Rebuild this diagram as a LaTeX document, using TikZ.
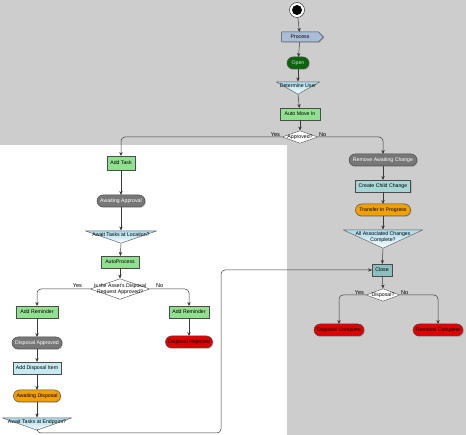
\documentclass[tikz,border=0pt]{standalone}
\usepackage{fontspec}
\setmainfont{Liberation Sans}
\usetikzlibrary{arrows.meta,shapes.geometric,shapes.symbols,shadows,calc}
\definecolor{bggray}{HTML}{CDCDCD}
\definecolor{actgreen}{HTML}{8FE08F}
\definecolor{darkgreen}{HTML}{0B650B}
\definecolor{pillgray}{HTML}{777777}
\definecolor{tealbox}{HTML}{A6D6D6}
\definecolor{closeteal}{HTML}{8CC0C0}
\definecolor{lightbluebox}{HTML}{C6EAF2}
\definecolor{orangepill}{HTML}{F2A000}
\definecolor{redpill}{HTML}{E00000}
\definecolor{sigblue}{HTML}{A9BCD8}
\definecolor{mergeblue}{HTML}{A4D8EA}
\definecolor{linecol}{HTML}{3A3A3A}
\begin{document}
\begin{tikzpicture}[x=1pt,y=-1pt,
  font=\fontsize{5.2}{5.8}\selectfont,
  every node/.style={inner sep=0pt, outer sep=0pt},
  base/.style={draw=black!70, line width=0.5pt, minimum height=12pt, align=center,
    drop shadow={shadow xshift=1pt,shadow yshift=-1pt,opacity=0.35}},
  actbox/.style={base, rectangle, fill=#1},
  pill/.style={base, rectangle, rounded corners=6pt, fill=#1},
  decision/.style={minimum height=13pt, align=center,
    path picture={
      \draw[fill=white, draw=black!60, line width=0.5pt]
        ([xshift=0.3pt]path picture bounding box.west) --
        ([yshift=-0.3pt]path picture bounding box.north) --
        ([xshift=-0.3pt]path picture bounding box.east) --
        ([yshift=0.3pt]path picture bounding box.south) -- cycle;}},
  waitshape/.style={minimum height=#1, text depth=5pt, align=center,
    path picture={
      \shade[top color=mergeblue, bottom color=white]
        ([yshift=-0.3pt]path picture bounding box.north west) --
        ([yshift=-0.3pt]path picture bounding box.north east) --
        ([yshift=0.3pt]path picture bounding box.south) -- cycle;
      \draw[draw=black!60, line width=0.5pt]
        ([yshift=-0.3pt]path picture bounding box.north west) --
        ([yshift=-0.3pt]path picture bounding box.north east) --
        ([yshift=0.3pt]path picture bounding box.south) -- cycle;}},
  waitshape/.default=13pt,
  flow/.style={draw=linecol, line width=0.5pt, rounded corners=4pt,
    -{Stealth[length=4pt,width=3.4pt]}},
  lbl/.style={font=\fontsize{5.6}{6}\selectfont}
]
% background
\useasboundingbox (0,0) rectangle (466,435);
\fill[bggray] (0,0) rectangle (466,435);
\fill[white] (0,145) rectangle (287,435);

% top
\node[circle, draw=black!80, line width=0.5pt, fill=white, minimum size=15pt,
  path picture={\fill[black] (path picture bounding box.center) circle (5pt);}]
  (start) at (297,10) {};
\node[base, signal, signal to=east, fill=sigblue, minimum width=42pt, minimum height=10pt,
  inner xsep=2pt] (proceed) at (300,37) {Process};
\node[base, rectangle, rounded corners=6pt, fill=darkgreen, text=white!85!black,
  minimum width=22pt] (open) at (298,63) {Open};
\node[waitshape, minimum width=44pt] (determine) at (298,88) {Determine User};
\node[actbox=actgreen, minimum width=40pt] (automove) at (300,114) {Auto Move In};
\node[decision, minimum width=36pt] (approved) at (300,137) {Approved?};

% left column
\node[actbox=actgreen, minimum width=28pt, minimum height=14pt] (addtask) at (121,163) {Add Task};
\node[pill=pillgray, text=white, minimum width=48pt] (awaitappr) at (121,201) {Awaiting Approval};
\node[waitshape, minimum width=72pt] (awaitloc) at (121,237) {Await Tasks at Location?};
\node[actbox=actgreen, minimum width=38pt] (autoproc) at (120,262) {AutoProcess};
\node[decision, minimum width=60pt, minimum height=21pt] (isdisp) at (120,289)
  {Is the Asset's Disposal\\Request Approved?};
\node[actbox=actgreen, minimum width=42pt] (addrem1) at (37,312) {Add Reminder};
\node[actbox=actgreen, minimum width=40pt] (addrem2) at (189,312) {Add Reminder};
\node[pill=pillgray, text=white, minimum width=50pt] (dispappr) at (37,343) {Disposal Approved};
\node[actbox=lightbluebox, minimum width=48pt] (dispitem) at (37,368) {Add Disposal Item};
\node[pill=orangepill, minimum width=47pt] (awaitdisp) at (37,396) {Awaiting Disposal};
\node[waitshape, minimum width=70pt] (awaitend) at (37,424) {Await Tasks at Endpoint?};
\node[pill=redpill, minimum width=47pt] (disprej) at (189,342) {Disposal Rejected};

% right column
\node[pill=pillgray, text=white, minimum width=68pt] (remove) at (383,160) {Remove Awaiting Change};
\node[actbox=tealbox, minimum width=55pt] (createchild) at (383,186) {Create Child Change};
\node[pill=orangepill, minimum width=55pt] (transfer) at (383,210) {Transfer In Progress};
\node[waitshape=19pt, minimum width=80pt] (allassoc) at (383,239) {All Associated Changes\\Complete?};
\node[actbox=closeteal, minimum width=20pt] (close) at (382,270) {Close};
\node[decision, minimum width=34pt] (disposal) at (383,295) {Disposal?};
\node[pill=redpill, minimum width=50pt] (dispcomp) at (339,330) {Disposal Complete};
\node[pill=redpill, minimum width=50pt] (remcomp) at (438,330) {Removal Complete};

\coordinate (loop) at (221,433);

% connectors
\draw[flow] (start) -- (proceed);
\draw[flow] (proceed) -- (open);
\draw[flow] (open) -- (determine.north);
\draw[flow] (determine.south) -- (automove);
\draw[flow] (automove) -- (approved.north);
\draw[flow] (approved.west) -- node[lbl, pos=0, above left, xshift=-2pt, yshift=0.5pt] {Yes} (approved.west -| addtask) -- (addtask.north);
\draw[flow] (approved.east) -- node[lbl, pos=0, above right, xshift=1pt, yshift=0.5pt] {No} (approved.east -| remove) -- (remove.north);

\draw[flow] (addtask) -- (awaitappr);
\draw[flow] (awaitappr) -- (awaitloc.north);
\draw[flow] (awaitloc.south) -- (autoproc);
\draw[flow] (autoproc) -- (isdisp.north);
\draw[flow] (isdisp.west) -- node[lbl, pos=0, above left, xshift=-8pt, yshift=1.5pt] {Yes} (isdisp.west -| addrem1) -- (addrem1.north);
\draw[flow] (isdisp.east) -- node[lbl, pos=0, above right, xshift=6pt, yshift=1.5pt] {No} (isdisp.east -| addrem2) -- (addrem2.north);
\draw[flow] (addrem1) -- (dispappr);
\draw[flow] (dispappr) -- (dispitem);
\draw[flow] (dispitem) -- (awaitdisp);
\draw[flow] (awaitdisp) -- (awaitend.north);
\draw[flow] (addrem2) -- (disprej);
\draw[flow] (awaitend.south) -- (awaitend.south |- loop) -- (loop) |- (close.west);

\draw[flow] (remove) -- (createchild);
\draw[flow] (createchild) -- (transfer);
\draw[flow] (transfer) -- (allassoc.north);
\draw[flow] (allassoc.south) -- (close);
\draw[flow] (close) -- (disposal.north);
\draw[flow] (disposal.west) -- node[lbl, pos=0, above left, xshift=-2pt, yshift=0.5pt] {Yes} (disposal.west -| dispcomp) -- (dispcomp.north);
\draw[flow] (disposal.east) -- node[lbl, pos=0, above right, xshift=1pt, yshift=0.5pt] {No} (disposal.east -| remcomp) -- (remcomp.north);
\end{tikzpicture}
\end{document}
